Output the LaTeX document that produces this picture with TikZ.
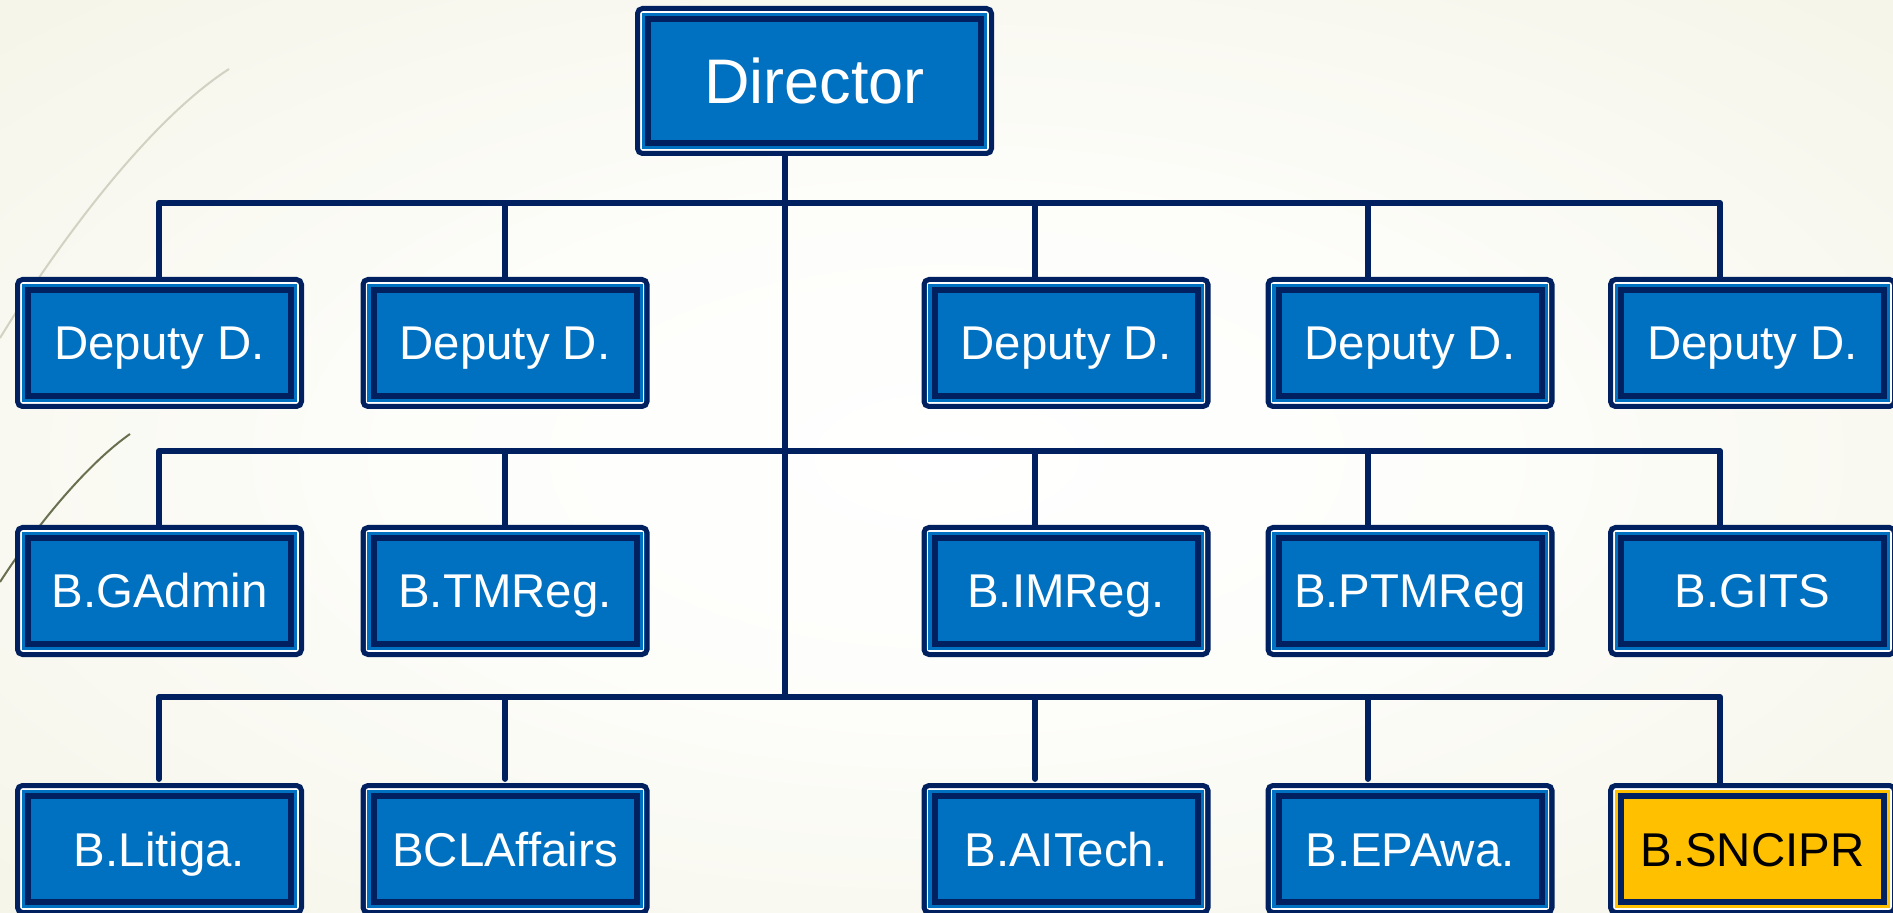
\documentclass[tikz,border=0pt]{standalone}
\usepackage{fontspec}
\setmainfont{Liberation Sans}
\definecolor{navy}{RGB}{0,32,96}
\definecolor{boxblue}{RGB}{0,112,192}
\definecolor{boxgold}{RGB}{255,192,0}
\definecolor{bgmid}{RGB}{253,253,250}
\definecolor{bgedge}{RGB}{240,239,221}
\definecolor{bgcorner}{RGB}{233,230,206}
\definecolor{faintline}{RGB}{210,210,195}
\definecolor{darkline}{RGB}{105,112,80}
\pgfdeclareradialshading{bgshade}{\pgfpoint{0bp}{0bp}}{color(0bp)=(white); color(14bp)=(bgmid); color(50bp)=(bgedge); color(72bp)=(bgcorner)}
\tikzset{
  unit/.style={draw=navy, line width=2.5pt, fill=boxblue, rounded corners=2.5pt,
    minimum width=142pt, minimum height=63.5pt, inner sep=0pt,
    text=white, font=\fontsize{23.7}{28}\selectfont, text height=17pt, text depth=0pt,
    path picture={
      \draw[white, line width=0.75pt, sharp corners]
        ([shift={(1.7pt,-1.7pt)}]path picture bounding box.north west) rectangle
        ([shift={(-1.7pt,1.7pt)}]path picture bounding box.south east);
      \draw[navy, line width=3pt, sharp corners]
        ([shift={(5.25pt,-5.25pt)}]path picture bounding box.north west) rectangle
        ([shift={(-5.25pt,5.25pt)}]path picture bounding box.south east);
    }},
  topunit/.style={unit, minimum width=177pt, minimum height=72.5pt,
    font=\fontsize{31.5}{36}\selectfont, text height=22.6pt},
  goldunit/.style={unit, fill=boxgold, text=black},
  conn/.style={draw=navy, line width=2.9pt, line cap=round, line join=round}
}
\begin{document}
\begin{tikzpicture}[x=0.5pt,y=-0.5pt]
\useasboundingbox (0,0) rectangle (1893,913);
\shade[shading=bgshade] (0,0) rectangle (1893,913);
% decorative lines
\draw[faintline, line width=1pt] (229,69) .. controls (150,120) and (60,240) .. (0,338);
\draw[darkline, line width=1pt] (130,434) .. controls (90,462) and (40,520) .. (0,582);
% nodes
\node[topunit] (dir) at (814.5,81) {Director};
\node[unit] (d1) at (159.5,343) {Deputy D.};
\node[unit] (d2) at (505,343) {Deputy D.};
\node[unit] (d3) at (1066,343) {Deputy D.};
\node[unit] (d4) at (1410,343) {Deputy D.};
\node[unit] (d5) at (1752.5,343) {Deputy D.};
\node[unit] (m1) at (159.5,591) {B.GAdmin};
\node[unit] (m2) at (505,591) {B.TMReg.};
\node[unit] (m3) at (1066,591) {B.IMReg.};
\node[unit] (m4) at (1410,591) {B.PTMReg};
\node[unit] (m5) at (1752.5,591) {B.GITS};
\node[unit] (l1) at (159.5,849) {B.Litiga.};
\node[unit] (l2) at (505,849) {BCLAffairs};
\node[unit] (l3) at (1066,849) {B.AITech.};
\node[unit] (l4) at (1410,849) {B.EPAwa.};
\node[goldunit] (l5) at (1752.5,849) {B.SNCIPR};
% bus levels and drop columns
\coordinate (b1) at (785,203);
\coordinate (b2) at (785,451);
\coordinate (b3) at (785,697);
\coordinate (x1) at (159,0);
\coordinate (x2) at (505,0);
\coordinate (x3) at (1035,0);
\coordinate (x4) at (1368,0);
\coordinate (x5) at (1720,0);
% trunk
\draw[conn] (b3 |- dir.south) -- (b3);
% level 1
\draw[conn] (x1 |- d1.north) -- (x1 |- b1) -- (x5 |- b1) -- (x5 |- d5.north);
\draw[conn] (x2 |- b1) -- (x2 |- d2.north);
\draw[conn] (x3 |- b1) -- (x3 |- d3.north);
\draw[conn] (x4 |- b1) -- (x4 |- d4.north);
% level 2
\draw[conn] (x1 |- m1.north) -- (x1 |- b2) -- (x5 |- b2) -- (x5 |- m5.north);
\draw[conn] (x2 |- b2) -- (x2 |- m2.north);
\draw[conn] (x3 |- b2) -- (x3 |- m3.north);
\draw[conn] (x4 |- b2) -- (x4 |- m4.north);
% level 3
\draw[conn, shorten <=2pt] (x1 |- l1.north) -- (x1 |- b3) -- (x5 |- b3) -- (x5 |- l5.north);
\draw[conn, shorten >=2pt] (x2 |- b3) -- (x2 |- l2.north);
\draw[conn, shorten >=2pt] (x3 |- b3) -- (x3 |- l3.north);
\draw[conn, shorten >=2pt] (x4 |- b3) -- (x4 |- l4.north);
\end{tikzpicture}
\end{document}
